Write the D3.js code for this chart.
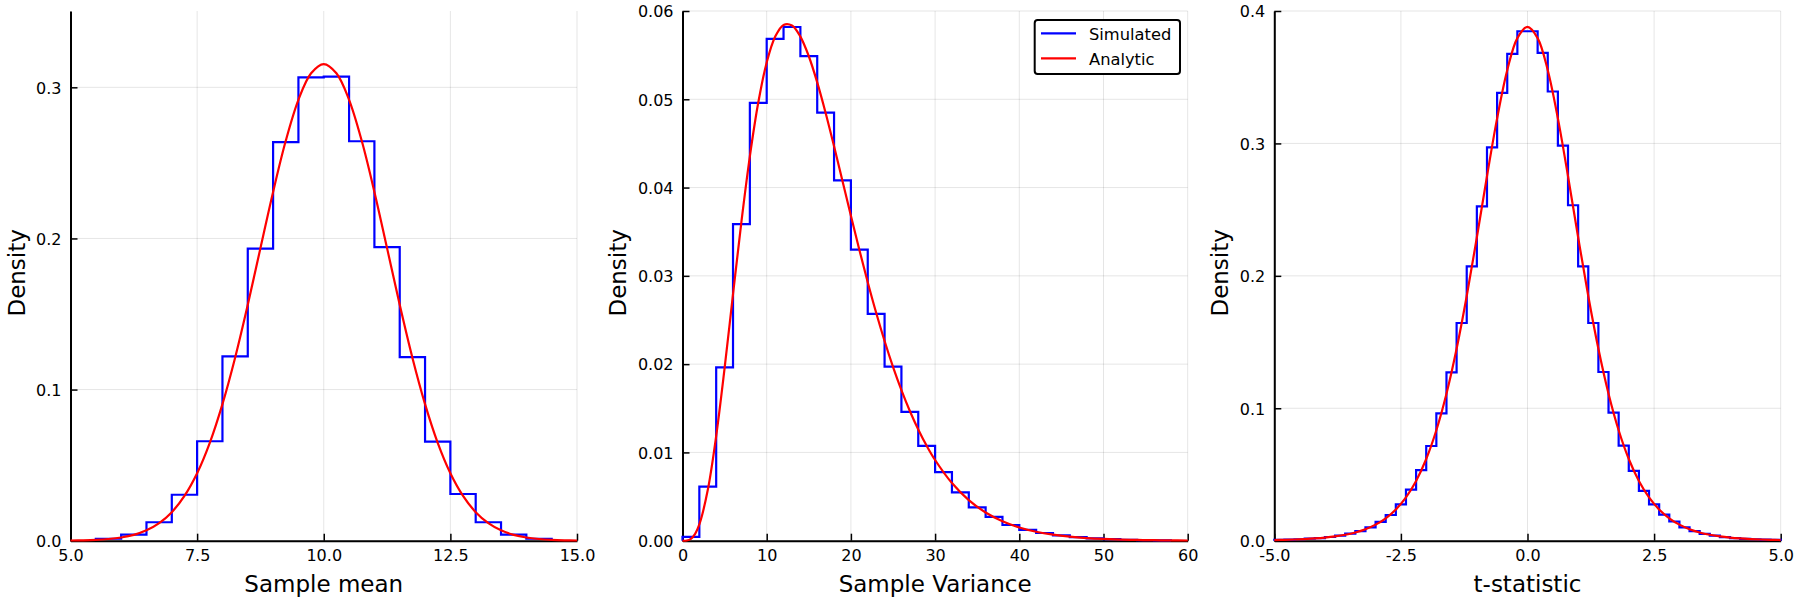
<!DOCTYPE html>
<html>
<head>
<meta charset="utf-8">
<script src="https://cdn.jsdelivr.net/npm/d3@7"></script>
<style>
  html, body { margin: 0; padding: 0; background: #fff; }
  svg { display: block; font-family: "DejaVu Sans", sans-serif; }
</style>
</head>
<body>
<svg id="chart" width="1800" height="600"></svg>
<script>
// ---------- DATA ----------
// Panel 1: Sample mean
const meanBinEdges = [5.5, 6.0, 6.5, 7.0, 7.5, 8.0, 8.5, 9.0, 9.5, 10.0, 10.5, 11.0, 11.5, 12.0, 12.5, 13.0, 13.5, 14.0, 14.5];
const meanHist = [0.0013, 0.0040, 0.0122, 0.0304, 0.0658, 0.1220, 0.1932, 0.2638, 0.3066, 0.3071, 0.2643, 0.1942, 0.1215, 0.0656, 0.0309, 0.0122, 0.0040, 0.0013];
const meanCurveX = [5.0, 5.25, 5.5, 5.75, 6.0, 6.25, 6.5, 6.75, 7.0, 7.25, 7.5, 7.75, 8.0, 8.25, 8.5, 8.75, 9.0, 9.25, 9.5, 9.75, 10.0,
                    10.25, 10.5, 10.75, 11.0, 11.25, 11.5, 11.75, 12.0, 12.25, 12.5, 12.75, 13.0, 13.25, 13.5, 13.75, 14.0, 14.25, 14.5, 14.75, 15.0];
const meanCurveY = [0.00013, 0.00027, 0.00056, 0.00112, 0.00213, 0.00389, 0.00686, 0.01163, 0.0189, 0.0297, 0.0447, 0.0648, 0.0904, 0.1211, 0.1561, 0.1936, 0.2308, 0.2646, 0.2917, 0.3093, 0.3154,
                    0.3093, 0.2917, 0.2646, 0.2308, 0.1936, 0.1561, 0.1211, 0.0904, 0.0648, 0.0447, 0.0297, 0.0189, 0.01163, 0.00686, 0.00389, 0.00213, 0.00112, 0.00056, 0.00027, 0.00013];
const meanXTicks = [5, 7.5, 10, 12.5, 15];
const meanXTickLabels = ["5.0", "7.5", "10.0", "12.5", "15.0"];
const meanYTicks = [0, 0.1, 0.2, 0.3];
const meanYTickLabels = ["0.0", "0.1", "0.2", "0.3"];

// Panel 2: Sample variance
const varBinEdges = [0, 2, 4, 6, 8, 10, 12, 14, 16, 18, 20, 22, 24, 26, 28, 30, 32, 34, 36, 38, 40, 42, 44, 46, 48, 50, 52, 54, 56, 58];
const varHist = [0.00043, 0.00612, 0.01963, 0.03587, 0.04959, 0.05684, 0.05819, 0.05489, 0.04850, 0.04082, 0.03296, 0.02570, 0.01971, 0.01459,
                 0.01073, 0.00777, 0.00547, 0.00378, 0.00269, 0.00178, 0.00122, 0.00087, 0.00061, 0.00040, 0.00026, 0.00017, 0.00011, 0.00007, 0.00004];
const varCurveX = [0, 0.5, 1, 1.5, 2, 3, 4, 5, 6, 7, 8, 9, 10, 11, 12, 13, 14, 15, 16, 17, 18, 19, 20, 21, 22, 23, 24, 25, 26, 27, 28, 29, 30,
                   32, 34, 36, 38, 40, 42, 44, 46, 48, 50, 52, 54, 56, 58, 60];
const varCurveY = [0, 0.00002, 0.000215, 0.000773, 0.001839, 0.005736, 0.011853, 0.019536, 0.027918, 0.036146, 0.043536, 0.049632, 0.054171,
                   0.057080, 0.058425, 0.058361, 0.057097, 0.054874, 0.051917, 0.048450, 0.044671, 0.040745, 0.036806, 0.032957, 0.029277,
                   0.025818, 0.022619, 0.019693, 0.017058, 0.014697, 0.012601, 0.010752, 0.009139,
                   0.006527, 0.004598, 0.003200, 0.002203, 0.001502, 0.001016, 0.000681, 0.000453, 0.000300, 0.000197, 0.000129, 0.000084, 0.000054, 0.000035, 0.000022];
const varXTicks = [0, 10, 20, 30, 40, 50, 60];
const varXTickLabels = ["0", "10", "20", "30", "40", "50", "60"];
const varYTicks = [0, 0.01, 0.02, 0.03, 0.04, 0.05, 0.06];
const varYTickLabels = ["0.00", "0.01", "0.02", "0.03", "0.04", "0.05", "0.06"];

// Panel 3: t-statistic
const tBinEdges = [-5.0, -4.8, -4.6, -4.4, -4.2, -4.0, -3.8, -3.6, -3.4, -3.2, -3.0, -2.8, -2.6, -2.4, -2.2, -2.0, -1.8, -1.6, -1.4, -1.2, -1.0,
                   -0.8, -0.6, -0.4, -0.2, 0.0, 0.2, 0.4, 0.6, 0.8, 1.0, 1.2, 1.4, 1.6, 1.8, 2.0, 2.2, 2.4, 2.6, 2.8, 3.0, 3.2, 3.4, 3.6, 3.8,
                   4.0, 4.2, 4.4, 4.6, 4.8, 5.0];
const tHist = [0.0006, 0.0008, 0.0011, 0.0015, 0.0020, 0.0028, 0.0038, 0.0053, 0.0073, 0.0101, 0.0142, 0.0194, 0.0275, 0.0385, 0.0533, 0.0715,
               0.0961, 0.1271, 0.1644, 0.2072, 0.2524, 0.2970, 0.3381, 0.3676, 0.3847, 0.3847, 0.3684, 0.3392, 0.2984, 0.2533, 0.2072, 0.1644,
               0.1274, 0.0967, 0.0718, 0.0527, 0.0376, 0.0275, 0.0197, 0.0145, 0.0101, 0.0072, 0.0052, 0.0038, 0.0027, 0.0020, 0.0014, 0.0011,
               0.0008, 0.0006];
const tCurveX = [-5.0, -4.8, -4.6, -4.4, -4.2, -4.0, -3.8, -3.6, -3.4, -3.2, -3.0, -2.8, -2.6, -2.4, -2.2, -2.0, -1.8, -1.6, -1.4, -1.2, -1.0,
                 -0.8, -0.6, -0.4, -0.2, 0.0, 0.2, 0.4, 0.6, 0.8, 1.0, 1.2, 1.4, 1.6, 1.8, 2.0, 2.2, 2.4, 2.6, 2.8, 3.0, 3.2, 3.4, 3.6, 3.8,
                 4.0, 4.2, 4.4, 4.6, 4.8, 5.0];
const tCurveY = [0.00050, 0.00068, 0.00092, 0.00125, 0.00171, 0.00235, 0.00324, 0.00449, 0.00624, 0.00869, 0.01213, 0.01692, 0.02357, 0.03271,
                 0.04513, 0.06171, 0.08341, 0.11098, 0.14488, 0.18475, 0.22913, 0.27523, 0.31893, 0.35531, 0.37952, 0.38803, 0.37952, 0.35531,
                 0.31893, 0.27523, 0.22913, 0.18475, 0.14488, 0.11098, 0.08341, 0.06171, 0.04513, 0.03271, 0.02357, 0.01692, 0.01213, 0.00869,
                 0.00624, 0.00449, 0.00324, 0.00235, 0.00171, 0.00125, 0.00092, 0.00068, 0.00050];
const tXTicks = [-5, -2.5, 0, 2.5, 5];
const tXTickLabels = ["-5.0", "-2.5", "0.0", "2.5", "5.0"];
const tYTicks = [0, 0.1, 0.2, 0.3, 0.4];
const tYTickLabels = ["0.0", "0.1", "0.2", "0.3", "0.4"];

const xLabels = ["Sample mean", "Sample Variance", "t-statistic"];
const yLabel = "Density";
const legendLabels = ["Simulated", "Analytic"];

// ---------- LAYOUT ----------
const svg = d3.select("#chart");
const plotTop = 11, plotBottom = 540.7;
const panels = [
  { left: 70.5, right: 577, xDomain: [5, 15], yDomain: [0, 0.3505], edges: meanBinEdges, hist: meanHist, cx: meanCurveX, cy: meanCurveY,
    xt: meanXTicks, xtl: meanXTickLabels, yt: meanYTicks, ytl: meanYTickLabels, xLabel: xLabels[0], yLabelX: 17, legend: false },
  { left: 682.5, right: 1187.7, xDomain: [0, 60], yDomain: [0, 0.06], edges: varBinEdges, hist: varHist, cx: varCurveX, cy: varCurveY,
    xt: varXTicks, xtl: varXTickLabels, yt: varYTicks, ytl: varYTickLabels, xLabel: xLabels[1], yLabelX: 617.5, legend: true },
  { left: 1274.3, right: 1780.7, xDomain: [-5, 5], yDomain: [0, 0.4], edges: tBinEdges, hist: tHist, cx: tCurveX, cy: tCurveY,
    xt: tXTicks, xtl: tXTickLabels, yt: tYTicks, ytl: tYTickLabels, xLabel: xLabels[2], yLabelX: 1220, legend: false }
];

const blue = "#0000ff", red = "#ff0000";
const defs = svg.append("defs");

panels.forEach((p, pi) => {
  const x = d3.scaleLinear().domain(p.xDomain).range([p.left, p.right]);
  const y = d3.scaleLinear().domain(p.yDomain).range([plotBottom, plotTop]);
  const g = svg.append("g");

  const clipId = "clip" + pi;
  defs.append("clipPath").attr("id", clipId)
    .append("rect").attr("x", p.left - 2).attr("y", plotTop - 2).attr("width", p.right - p.left + 4).attr("height", plotBottom - plotTop + 4);

  // grid
  g.append("g").selectAll("line").data(p.xt).join("line")
    .attr("x1", d => x(d)).attr("x2", d => x(d)).attr("y1", plotTop).attr("y2", plotBottom)
    .attr("stroke", "#000").attr("stroke-opacity", 0.1).attr("stroke-width", 1);
  g.append("g").selectAll("line").data(p.yt).join("line")
    .attr("x1", p.left).attr("x2", p.right).attr("y1", d => y(d)).attr("y2", d => y(d))
    .attr("stroke", "#000").attr("stroke-opacity", 0.1).attr("stroke-width", 1);

  // axes
  const xAxis = d3.axisBottom(x).tickValues(p.xt).tickFormat((d, i) => p.xtl[i])
    .tickSizeInner(-7).tickSizeOuter(0).tickPadding(9);
  const yAxis = d3.axisLeft(y).tickValues(p.yt).tickFormat((d, i) => p.ytl[i])
    .tickSizeInner(-7).tickSizeOuter(0).tickPadding(9);
  const gx = g.append("g").attr("transform", `translate(0,${plotBottom})`).call(xAxis);
  const gy = g.append("g").attr("transform", `translate(${p.left},0)`).call(yAxis);
  [gx, gy].forEach(a => {
    a.select(".domain").attr("stroke", "#000").attr("stroke-width", 2);
    a.selectAll(".tick line").attr("stroke", "#000").attr("stroke-width", 1.5);
    a.selectAll(".tick text").attr("fill", "#000").attr("font-size", 16).attr("font-family", "DejaVu Sans");
  });
  gy.selectAll(".tick text").attr("dy", "0.36em");

  // axis labels
  g.append("text").attr("x", (p.left + p.right) / 2).attr("y", 592)
    .attr("text-anchor", "middle").attr("font-size", 23).attr("fill", "#000").text(p.xLabel);
  g.append("text").attr("transform", `translate(${p.yLabelX},${(plotTop + plotBottom) / 2 - 3}) rotate(-90)`)
    .attr("text-anchor", "middle").attr("dominant-baseline", "central")
    .attr("font-size", 23).attr("fill", "#000").text(yLabel);

  // histogram step outline
  const pts = [[p.edges[0], 0]];
  p.hist.forEach((v, i) => { pts.push([p.edges[i], v]); pts.push([p.edges[i + 1], v]); });
  pts.push([p.edges[p.edges.length - 1], 0]);
  g.append("path").attr("clip-path", `url(#${clipId})`)
    .attr("d", d3.line().x(d => x(d[0])).y(d => y(d[1]))(pts))
    .attr("fill", "none").attr("stroke", blue).attr("stroke-width", 2.2).attr("stroke-linejoin", "miter");

  // analytic curve
  const curvePts = p.cx.map((v, i) => [v, p.cy[i]]);
  g.append("path").attr("clip-path", `url(#${clipId})`)
    .attr("d", d3.line().x(d => x(d[0])).y(d => y(d[1])).curve(d3.curveCatmullRom.alpha(0.5))(curvePts))
    .attr("fill", "none").attr("stroke", red).attr("stroke-width", 2.2);

  // legend
  if (p.legend) {
    const lg = g.append("g");
    lg.append("rect").attr("x", 1034.7).attr("y", 20).attr("width", 145.3).attr("height", 54)
      .attr("rx", 3).attr("fill", "#fff").attr("stroke", "#000").attr("stroke-width", 2);
    const cols = [blue, red];
    legendLabels.forEach((lab, i) => {
      const yy = 33.3 + i * 25;
      lg.append("line").attr("x1", 1041).attr("x2", 1076).attr("y1", yy).attr("y2", yy)
        .attr("stroke", cols[i]).attr("stroke-width", 2.2);
      lg.append("text").attr("x", 1089).attr("y", yy + 6.5).attr("font-size", 16.3).attr("fill", "#000").text(lab);
    });
  }
});
</script>
</body>
</html>
